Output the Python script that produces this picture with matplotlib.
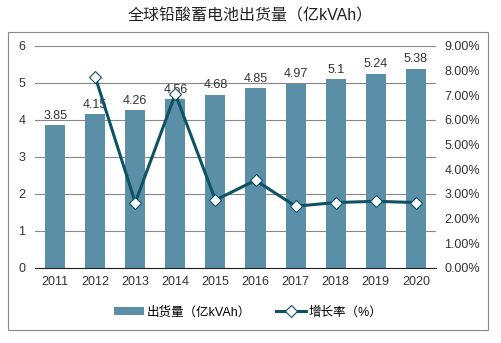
import numpy as np
import matplotlib.pyplot as plt
from matplotlib.patches import Rectangle

plt.rcParams['font.family'] = ['Liberation Sans', 'Noto Sans CJK SC', 'DejaVu Sans']

years = ['2011', '2012', '2013', '2014', '2015', '2016', '2017', '2018', '2019', '2020']
shipment = [3.85, 4.15, 4.26, 4.56, 4.68, 4.85, 4.97, 5.1, 5.24, 5.38]
growth_years = years[1:]
growth = [7.75, 2.65, 7.05, 2.75, 3.55, 2.50, 2.65, 2.70, 2.65]

bar_color = '#5b8fa8'
line_color = '#0d5265'

fig = plt.figure(figsize=(5.01, 3.43), dpi=100)
ax = fig.add_axes([0.070, 0.219, 0.800, 0.647])

x = np.arange(len(years))
ax.bar(x, shipment, width=0.5, color=bar_color, zorder=2, label='出货量（亿kVAh）')
for xi, v in zip(x, shipment):
    ax.text(xi, v + 0.1, f'{v:g}', ha='center', va='bottom', fontsize=9, color='#333333',
            zorder=5)

ax.set_ylim(0, 6)
ax.set_xlim(-0.5, len(years) - 0.5)
ax.set_yticks(range(0, 7))
ax.set_xticks(x)
ax.set_xticklabels(years)
ax.grid(axis='y', color='#888888', linewidth=0.8, zorder=0)
for s in ['left', 'right', 'top']:
    ax.spines[s].set_visible(False)
ax.spines['bottom'].set_color('#222222')
ax.tick_params(axis='both', length=0, labelsize=9, colors='#333333', pad=6)
ax.tick_params(axis='y', pad=7)

ax2 = ax.twinx()
gx = [years.index(y) for y in growth_years]
ax2.plot(gx, growth, color=line_color, linewidth=2.2, marker='D', markersize=6.5,
         markerfacecolor='white', markeredgecolor=line_color, markeredgewidth=0.8,
         zorder=4, label='增长率（%）')
ax2.set_ylim(0, 9)
ax2.set_yticks(np.arange(0, 10))
ax2.set_yticklabels([f'{v:.2f}%' for v in np.arange(0, 10)])
for s in ['left', 'right', 'top', 'bottom']:
    ax2.spines[s].set_visible(False)
ax2.tick_params(axis='y', length=0, labelsize=9, colors='#333333', pad=6)

h1, l1 = ax.get_legend_handles_labels()
h2, l2 = ax2.get_legend_handles_labels()
fig.legend(h1 + h2, l1 + l2, loc='center', bbox_to_anchor=(0.495, 0.090), ncol=2,
           frameon=False, fontsize=9, handlelength=2.4, handleheight=0.6,
           columnspacing=2.0, handletextpad=0.2)

fig.text(0.5, 0.955, '全球铅酸蓄电池出货量（亿kVAh）', ha='center', va='center', fontsize=11.5,
         color='#222222')

fig.patches.append(Rectangle((8 / 501, 1 - 330 / 343), 480 / 501, 298 / 343,
                             transform=fig.transFigure, fill=False, edgecolor='#888888',
                             linewidth=0.8))

fig.savefig('out.png', dpi=100)
